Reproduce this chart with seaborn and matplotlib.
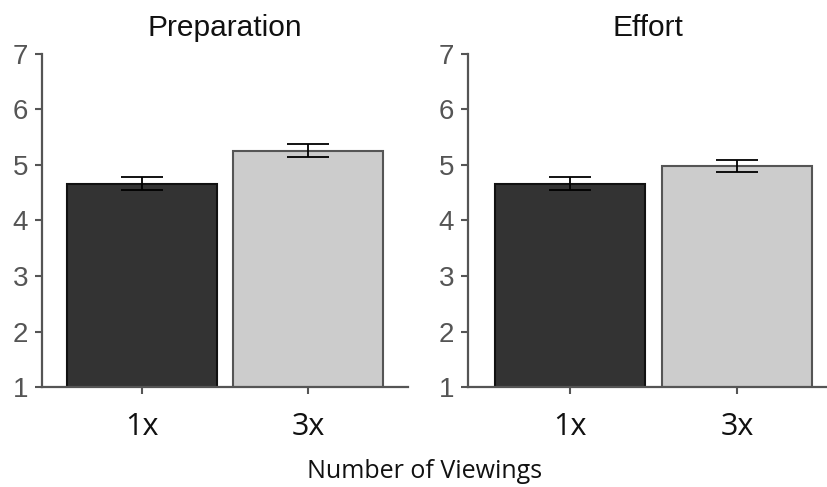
import matplotlib
matplotlib.use("Agg")
import matplotlib.pyplot as plt
import seaborn as sns
import pandas as pd

sns.set_theme(style="white")
plt.rcParams['font.family'] = ['Liberation Sans', 'DejaVu Sans']

conditions = ["1x", "3x"]
panels = ["Preparation", "Effort"]
preparation_means = [4.66, 5.26]
preparation_se = [0.12, 0.12]
effort_means = [4.66, 4.98]
effort_se = [0.12, 0.11]
yticks = [1, 2, 3, 4, 5, 6, 7]

bar_colors = ["#333333", "#cccccc"]
edge_colors = ["#111111", "#555555"]
spine_col = "#555555"

fig = plt.figure(figsize=(8.28, 4.87), dpi=100)
axes = [fig.add_axes([0.0507, 0.2053, 0.442, 0.684]),
        fig.add_axes([0.5652, 0.2053, 0.4348, 0.684])]

data = [(preparation_means, preparation_se), (effort_means, effort_se)]
xlims = [(-0.6, 1.6), (-0.61, 1.545)]

for ax, title, (means, se), xl in zip(axes, panels, data, xlims):
    df = pd.DataFrame({"cond": conditions, "value": means})
    sns.barplot(data=df, x="cond", y="value", hue="cond", palette=bar_colors,
                order=conditions, hue_order=conditions, width=0.9,
                errorbar=None, legend=False, ax=ax, saturation=1)
    for patch, ec in zip(ax.patches, edge_colors):
        patch.set_edgecolor(ec)
        patch.set_linewidth(1.5)
    ax.errorbar(range(len(conditions)), means, yerr=se, fmt="none",
                ecolor="black", elinewidth=1.3, capsize=15, capthick=1.3, zorder=5)
    ax.set_ylim(1, 7)
    ax.set_xlim(*xl)
    ax.set_yticks(yticks)
    ax.set_title(title, fontsize=21.5, color="#111111", pad=13)
    ax.set_xlabel("")
    ax.set_ylabel("")
    sns.despine(ax=ax)
    for s in ["left", "bottom"]:
        ax.spines[s].set_color(spine_col)
        ax.spines[s].set_linewidth(1.6)
    ax.tick_params(axis="y", which="major", left=True, length=5, width=1.5,
                   color=spine_col, labelcolor="#555555", labelsize=20, pad=5)
    ax.tick_params(axis="x", which="major", bottom=True, length=5, width=1.5,
                   color=spine_col, labelcolor="#111111", pad=13)
    for lab in ax.get_xticklabels():
        lab.set_fontfamily(["Open Sans", "DejaVu Sans"])
        lab.set_fontsize(22)

fig.text(0.513, 0.031, "Number of Viewings", ha="center", va="center",
         fontsize=18, family=["Open Sans", "DejaVu Sans"], color="#111111")

fig.savefig("out.png", dpi=100)
